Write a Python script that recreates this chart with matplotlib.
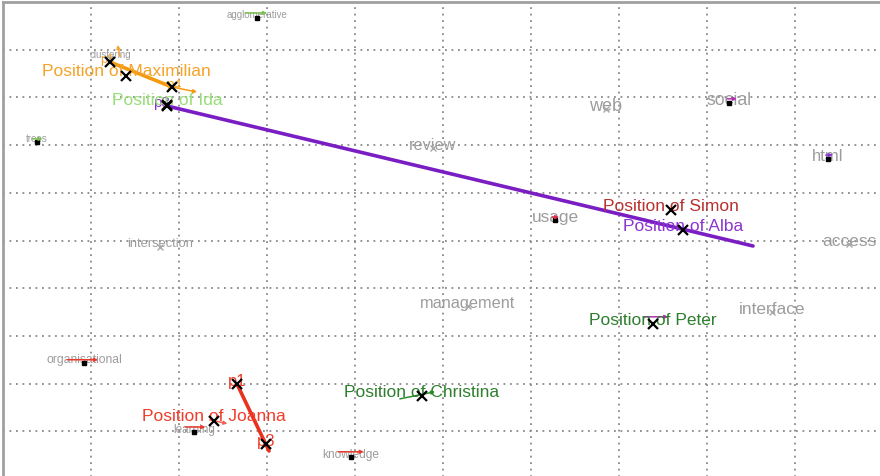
import matplotlib
matplotlib.use("Agg")
import matplotlib.pyplot as plt
from matplotlib.transforms import offset_copy

plt.rcParams["font.family"] = ["Liberation Sans", "DejaVu Sans"]

# Word map: term positions, font sizes and marker styles
words = ["agglomerative", "clustering", "trees", "intersection", "organisational",
         "learning", "knowledge", "review", "usage", "management", "web",
         "social", "html", "access", "interface"]
word_x = [2.886, 1.216, 0.386, 1.784, 0.920, 2.170, 3.955, 4.886, 6.273, 5.284,
          6.852, 8.250, 9.375, 9.614, 8.739]
word_y = [9.665, 8.830, 7.065, 4.864, 2.432, 0.985, 0.461, 6.939, 5.430, 3.627,
          7.757, 7.883, 6.709, 4.927, 3.501]
word_size = [7, 7, 7, 9.3, 8.7, 8.5, 8.6, 11.7, 12.4, 11.7, 13, 12.7, 12, 12.5, 12.4]
word_marker = ["s", "x", "s", "x", "s", "s", "s", "x", "s", "x", "x", "s", "s", "x", "x"]

# Current position of each person
people = ["Maximilian", "Ida", "Alba", "Simon", "Peter", "Christina", "Joanna"]
person_x = [1.398, 1.864, 7.727, 7.591, 7.386, 4.761, 2.398]
person_y = [8.449, 7.841, 5.220, 5.639, 3.249, 1.740, 1.216]
person_color = ["#F5A32A", "#98DE78", "#8A35D0", "#B83030", "#2F7F2F", "#2F7F2F", "#F03C2A"]

# Movement paths (start -> end) with intermediate labelled points
path_x0 = [1.216, 1.864, 2.659]
path_y0 = [8.742, 7.820, 1.992]
path_x1 = [1.920, 8.523, 3.023]
path_y1 = [8.218, 4.885, 0.587]
path_color = ["#F59A10", "#7A1EC4", "#E8321E"]

step_labels = ["p1", "p4", "p3", "p1", "p3"]
step_x = [1.216, 1.920, 1.864, 2.659, 2.989]
step_y = [8.742, 8.218, 7.820, 1.992, 0.734]
step_color = ["#F5A32A", "#F5A32A", "#8A35D0", "#F03C2A", "#F03C2A"]
step_size = [9, 10, 11, 12, 12]
step_dx = [-3, 2, -6, 0, 0]

# Small drift arrows drawn at term and person positions
drift_x0 = [2.75, 0.33, 0.73, 2.07, 3.81, 6.24, 8.23, 9.35, 7.29, 4.51, 1.920, 2.35, 1.33]
drift_y0 = [9.77, 7.13, 2.50, 1.09, 0.57, 5.49, 7.97, 6.79, 3.40, 1.68, 8.218, 1.24, 8.86]
drift_x1 = [3.00, 0.45, 1.08, 2.30, 4.10, 6.32, 8.34, 9.43, 7.56, 4.91, 2.205, 2.55, 1.30]
drift_y1 = [9.77, 7.13, 2.50, 1.09, 0.57, 5.49, 7.97, 6.79, 3.40, 1.83, 8.113, 1.16, 9.10]
drift_color = ["#7CC050", "#7CC050", "#E83A2A", "#E83A2A", "#E83A2A", "#D8304A",
               "#B030B0", "#8A35D0", "#B030B0", "#2F8F2F", "#F59A10", "#F06050", "#F5A32A"]

fig = plt.figure(figsize=(8.8, 4.77), dpi=100)
ax = fig.add_axes([3 / 880, -3 / 477, 1.0, 1.0])
ax.set_xlim(0, 10)
ax.set_ylim(0, 10)
ax.set_xticks(range(1, 10))
ax.set_yticks(range(1, 10))
ax.tick_params(length=0, labelleft=False, labelbottom=False)
ax.grid(True, color="#8a8a8a", linestyle=(0, (1, 2.6)), linewidth=1.3)
for side in ["left", "top", "right", "bottom"]:
    ax.spines[side].set_color("#a0a0a0")
    ax.spines[side].set_linewidth(2)

up = offset_copy(ax.transData, fig=fig, x=0, y=3.5, units="dots")

for w, x, y, s, m in zip(words, word_x, word_y, word_size, word_marker):
    ax.text(x, y, w, transform=up, fontsize=s, color="#9c9c9c",
            ha="center", va="center", zorder=2)
    if m == "s":
        ax.plot(x, y, marker="s", markersize=2.6, color="black", zorder=3)
    else:
        ax.plot(x, y, marker="x", markersize=5, color="#a8a8a8", mew=1, zorder=3)

for x0, y0, x1, y1, c in zip(drift_x0, drift_y0, drift_x1, drift_y1, drift_color):
    ax.annotate("", xy=(x1, y1), xytext=(x0, y0),
                arrowprops=dict(arrowstyle="-|>", color=c, lw=1.1,
                                mutation_scale=5, shrinkA=0, shrinkB=0),
                zorder=4)

for x0, y0, x1, y1, c in zip(path_x0, path_y0, path_x1, path_y1, path_color):
    ax.plot([x0, x1], [y0, y1], color=c, linewidth=2.6, solid_capstyle="round", zorder=5)

for t, x, y, c, s, dx in zip(step_labels, step_x, step_y, step_color, step_size, step_dx):
    ax.plot(x, y, marker="x", markersize=6.5, color="black", mew=1.6, zorder=7)
    ax.text(x, y, t, transform=offset_copy(ax.transData, fig=fig, x=dx, y=3.5,
            units="dots"), fontsize=s, color=c, ha="center", va="center", zorder=6)

for name, x, y, c in zip(people, person_x, person_y, person_color):
    ax.plot(x, y, marker="x", markersize=6.5, color="black", mew=1.6, zorder=7)
    ax.text(x, y, "Position of " + name, transform=offset_copy(
        ax.transData, fig=fig, x=0, y=5, units="dots"), fontsize=12.5,
        color=c, ha="center", va="center", zorder=6)

fig.savefig("out.png", dpi=100)
